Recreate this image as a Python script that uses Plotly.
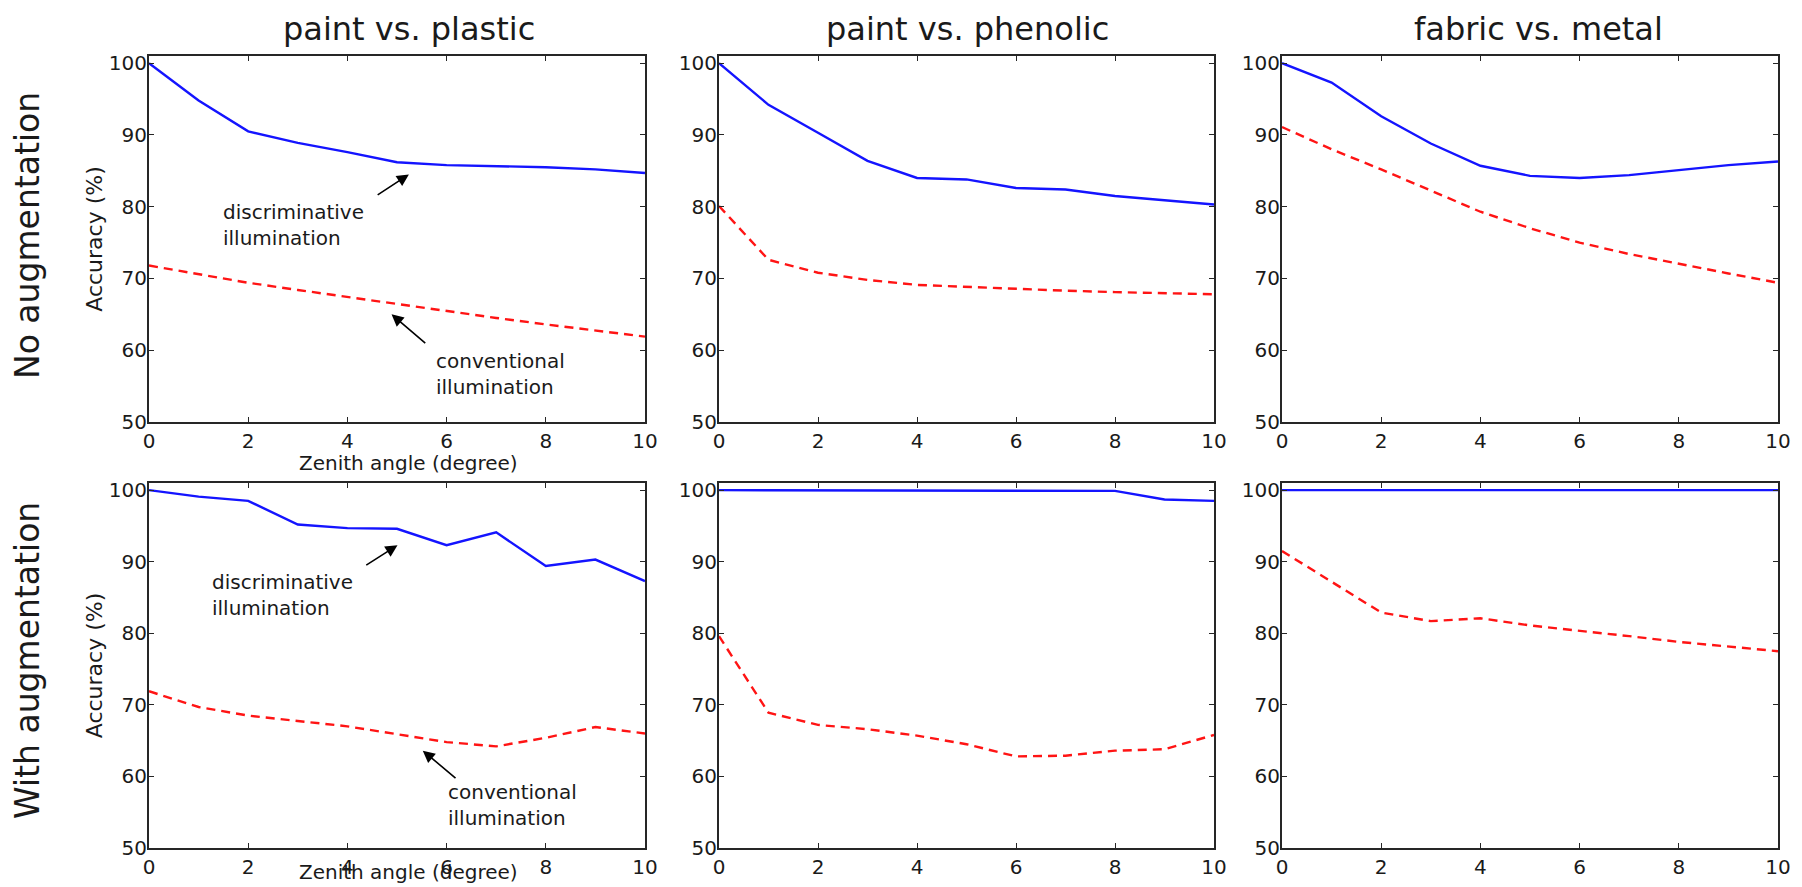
import plotly.graph_objects as go

# ---------------- data ----------------
zenith = [0, 1, 2, 3, 4, 5, 6, 7, 8, 9, 10]
col_titles = ["paint vs. plastic", "paint vs. phenolic", "fabric vs. metal"]
row_labels = ["No augmentation", "With augmentation"]
x_ticks = [0, 2, 4, 6, 8, 10]
y_ticks = [50, 60, 70, 80, 90, 100]

disc_noaug_plastic = [100, 94.8, 90.5, 88.9, 87.6, 86.2, 85.8, 85.7, 85.5, 85.2, 84.7]
conv_noaug_plastic = [71.8, 70.6, 69.4, 68.4, 67.4, 66.4, 65.4, 64.5, 63.6, 62.8, 61.9]
disc_noaug_phenolic = [100, 94.2, 90.3, 86.4, 84.0, 83.8, 82.6, 82.4, 81.5, 80.9, 80.3]
conv_noaug_phenolic = [80.1, 72.6, 70.8, 69.8, 69.1, 68.8, 68.5, 68.3, 68.1, 67.9, 67.8]
disc_noaug_metal = [100, 97.3, 92.6, 88.8, 85.7, 84.3, 84.0, 84.4, 85.1, 85.8, 86.3]
conv_noaug_metal = [91.1, 88.0, 85.2, 82.2, 79.3, 77.0, 75.0, 73.4, 72.0, 70.7, 69.4]
disc_aug_plastic = [100, 99.1, 98.5, 95.2, 94.7, 94.6, 92.3, 94.1, 89.4, 90.3, 87.3]
conv_aug_plastic = [71.9, 69.7, 68.5, 67.7, 67.0, 65.9, 64.8, 64.2, 65.4, 66.9, 66.0]
disc_aug_phenolic = [100, 100, 100, 100, 100, 100, 100, 99.9, 99.9, 98.7, 98.5]
conv_aug_phenolic = [79.6, 68.9, 67.2, 66.6, 65.7, 64.5, 62.8, 62.9, 63.6, 63.8, 65.8]
disc_aug_metal = [100, 100, 100, 100, 100, 100, 100, 100, 100, 100, 100]
conv_aug_metal = [91.5, 87.2, 82.9, 81.7, 82.1, 81.1, 80.4, 79.6, 78.8, 78.2, 77.5]

panels = [
    (disc_noaug_plastic, conv_noaug_plastic),
    (disc_noaug_phenolic, conv_noaug_phenolic),
    (disc_noaug_metal, conv_noaug_metal),
    (disc_aug_plastic, conv_aug_plastic),
    (disc_aug_phenolic, conv_aug_phenolic),
    (disc_aug_metal, conv_aug_metal),
]

# ---------------- layout helpers ----------------
W, H = 1802, 887


def px(x):
    return x / W


def py(y):
    return 1 - y / H


col_px = [(149, 645), (719, 1214), (1282, 1778)]
row_px = [(56, 422), (483, 848)]

FONT = "DejaVu Sans"
INK = "#1a1a1a"
FRAME = "#262626"

fig = go.Figure()
layout = dict(
    width=W, height=H,
    margin=dict(l=0, r=0, t=0, b=0, pad=0, autoexpand=False),
    paper_bgcolor="white", plot_bgcolor="white",
    showlegend=False,
    font=dict(family=FONT, color=INK, size=20),
)
annotations = []

for i, (disc, conv) in enumerate(panels):
    r, c = divmod(i, 3)
    n = "" if i == 0 else str(i + 1)
    xa, ya = "x" + n, "y" + n
    fig.add_trace(go.Scatter(x=zenith, y=disc, mode="lines", xaxis=xa, yaxis=ya,
                             line=dict(color="#1414ff", width=2.4),
                             name="discriminative illumination"))
    fig.add_trace(go.Scatter(x=zenith, y=conv, mode="lines", xaxis=xa, yaxis=ya,
                             line=dict(color="#ff1414", width=2.4, dash="9px,6px"),
                             name="conventional illumination"))
    common = dict(showline=True, linecolor=FRAME, linewidth=2, mirror="ticks",
                  ticks="inside", ticklen=5, tickwidth=1, tickcolor=FRAME,
                  showgrid=False, zeroline=False, automargin=False,
                  tickfont=dict(family=FONT, size=20, color=INK))
    layout["xaxis" + n] = dict(common, domain=[px(col_px[c][0]), px(col_px[c][1])],
                               range=[0, 10], tickvals=x_ticks, anchor=ya)
    yax = dict(common, domain=[py(row_px[r][1]), py(row_px[r][0])],
               range=[50, 101], tickvals=y_ticks, anchor=xa, ticklabelstandoff=-4)
    if c == 0:
        yax["title"] = dict(text="Accuracy (%)", font=dict(family=FONT, size=22, color=INK),
                            standoff=0)
    layout["yaxis" + n] = yax

# column titles
centers = [409, 967, 1538]
for c, t in enumerate(col_titles):
    annotations.append(dict(text=t, xref="paper", yref="paper", x=px(centers[c]), y=py(29),
                            xanchor="center", yanchor="middle", showarrow=False,
                            font=dict(family=FONT, size=32, color=INK)))

# row labels
row_centers = [236, 661]
for r, t in enumerate(row_labels):
    annotations.append(dict(text=t, xref="paper", yref="paper", x=px(27), y=py(row_centers[r]),
                            xanchor="center", yanchor="middle", showarrow=False, textangle=-90,
                            font=dict(family=FONT, size=33, color=INK)))

# x axis titles (left column only)
for yc in (463, 872):
    annotations.append(dict(text="Zenith angle (degree)", xref="paper", yref="paper",
                            x=px(408), y=py(yc), xanchor="center", yanchor="middle",
                            showarrow=False, font=dict(family=FONT, size=20, color=INK)))


# in-plot labels with arrows (left column)
def label(xa, ya, x, y, text):
    annotations.append(dict(text=text, xref=xa, yref=ya, x=x, y=y, xanchor="left",
                            yanchor="top", align="left", showarrow=False,
                            font=dict(family=FONT, size=20, color=INK)))


def arrow(xa, ya, hx, hy, tx, ty):
    annotations.append(dict(text="", xref=xa, yref=ya, x=hx, y=hy, axref=xa, ayref=ya,
                            ax=tx, ay=ty, showarrow=True, arrowhead=2, arrowsize=1.5,
                            arrowwidth=1.6, arrowcolor="black", standoff=0, startstandoff=0))


label("x", "y", 1.45, 81.2, "discriminative<br>illumination")
arrow("x", "y", 5.24, 84.5, 4.58, 81.5)
label("x", "y", 5.74, 60.5, "conventional<br>illumination")
arrow("x", "y", 4.89, 65.0, 5.6, 60.8)

label("x4", "y4", 1.22, 89.1, "discriminative<br>illumination")
arrow("x4", "y4", 5.01, 92.3, 4.35, 89.4)
label("x4", "y4", 5.98, 59.8, "conventional<br>illumination")
arrow("x4", "y4", 5.52, 63.6, 6.21, 59.6)

layout["annotations"] = annotations
fig.update_layout(**layout)

page_fix = (
    "document.documentElement.style.margin='0';"
    "document.documentElement.style.overflow='hidden';"
    "document.body.style.margin='0';"
    "document.body.style.overflow='hidden';"
)
fig.write_html("out.html", post_script=page_fix, config={"displayModeBar": False})
